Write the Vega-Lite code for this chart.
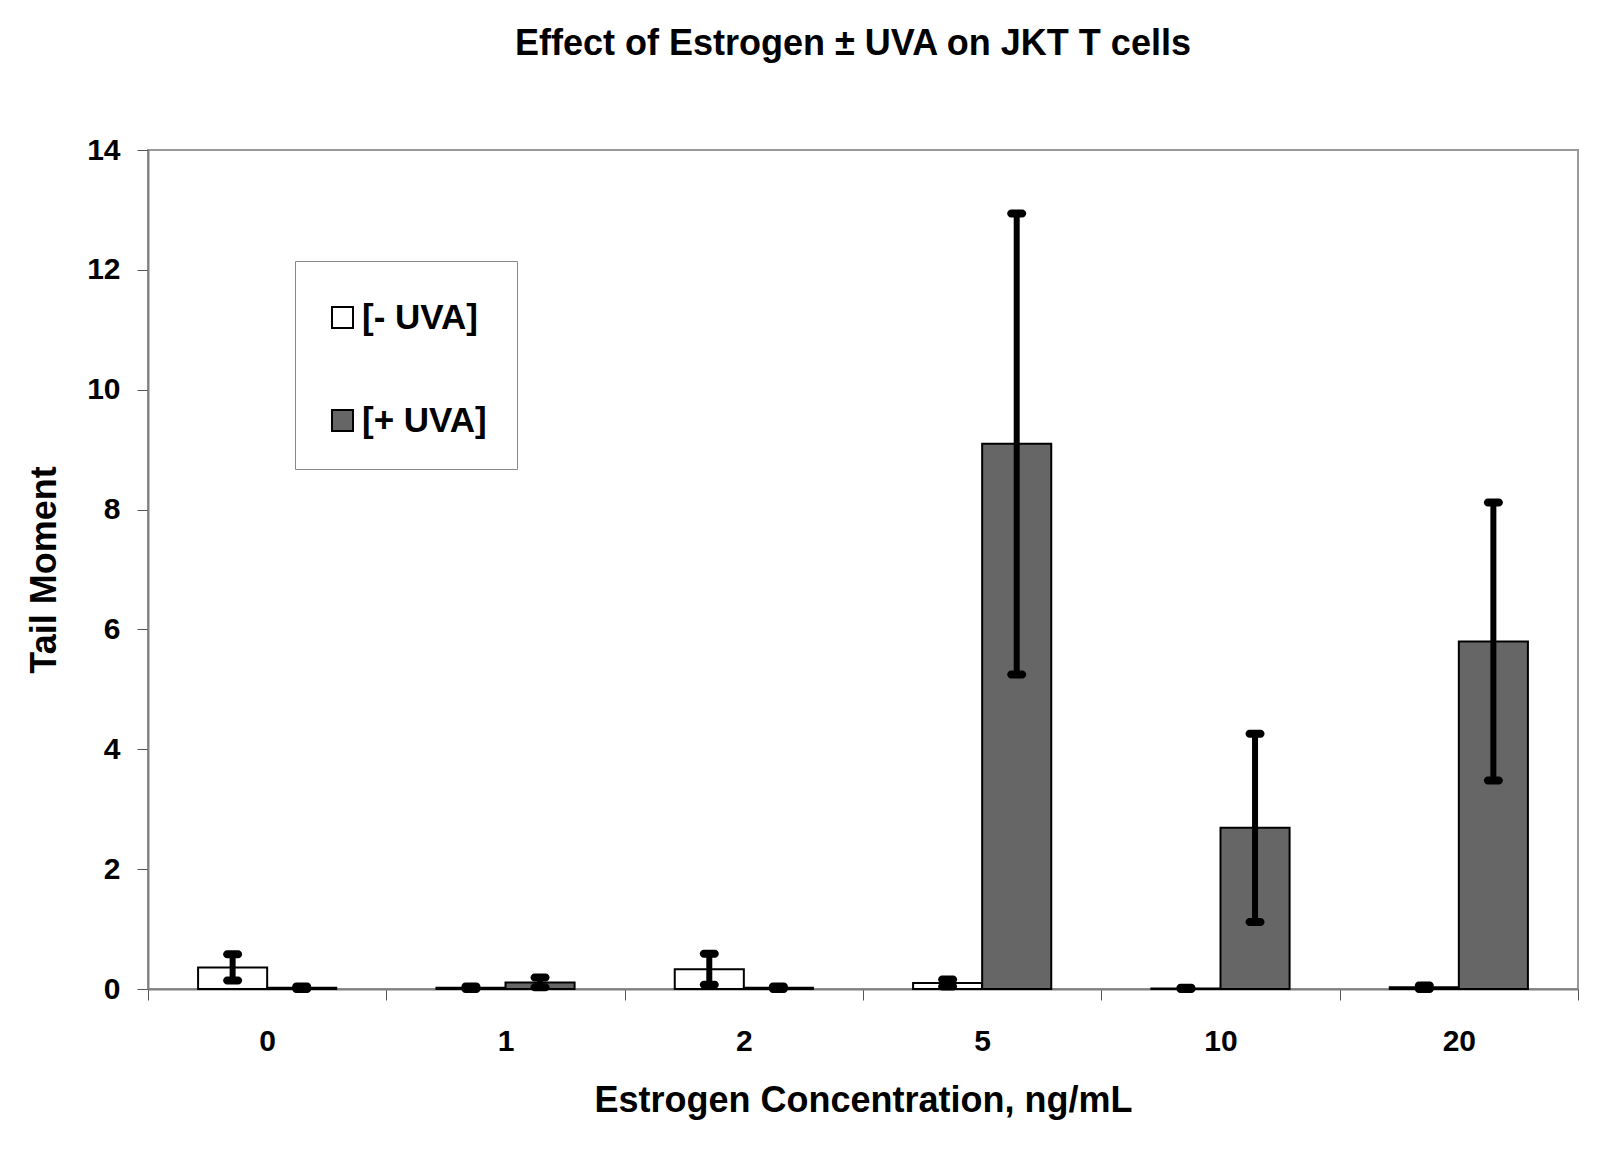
{
  "$schema": "https://vega.github.io/schema/vega-lite/v6.json",
  "width": 1430,
  "height": 839,
  "autosize": {"type": "none"},
  "padding": {"left": 148, "top": 150, "right": 32, "bottom": 161},
  "background": "white",
  "title": {
    "text": "Effect of Estrogen ± UVA on JKT T cells",
    "font": "Liberation Sans",
    "fontSize": 36,
    "fontWeight": "bold",
    "color": "black",
    "anchor": "middle",
    "dx": -10,
    "offset": 72
  },
  "config": {
    "view": {"stroke": "#999999", "strokeWidth": 2},
    "font": "Liberation Sans"
  },
  "data": {
    "values": [
      {"conc": 0, "uva": "[- UVA]", "mean": 0.36, "lo": 0.14, "hi": 0.58},
      {"conc": 0, "uva": "[+ UVA]", "mean": 0.02, "lo": 0.0, "hi": 0.04},
      {"conc": 1, "uva": "[- UVA]", "mean": 0.02, "lo": 0.0, "hi": 0.04},
      {"conc": 1, "uva": "[+ UVA]", "mean": 0.11, "lo": 0.03, "hi": 0.19},
      {"conc": 2, "uva": "[- UVA]", "mean": 0.33, "lo": 0.07, "hi": 0.59},
      {"conc": 2, "uva": "[+ UVA]", "mean": 0.02, "lo": 0.0, "hi": 0.04},
      {"conc": 5, "uva": "[- UVA]", "mean": 0.1, "lo": 0.04, "hi": 0.16},
      {"conc": 5, "uva": "[+ UVA]", "mean": 9.1, "lo": 5.25, "hi": 12.94},
      {"conc": 10, "uva": "[- UVA]", "mean": 0.01, "lo": 0.0, "hi": 0.02},
      {"conc": 10, "uva": "[+ UVA]", "mean": 2.69, "lo": 1.12, "hi": 4.26},
      {"conc": 20, "uva": "[- UVA]", "mean": 0.03, "lo": 0.0, "hi": 0.06},
      {"conc": 20, "uva": "[+ UVA]", "mean": 5.8, "lo": 3.48, "hi": 8.12}
    ]
  },
  "encoding": {
    "x": {
      "field": "conc",
      "type": "ordinal",
      "scale": {"paddingInner": 0, "paddingOuter": 0},
      "axis": {
        "title": "Estrogen Concentration, ng/mL",
        "labelAngle": 0,
        "tickBand": "extent",
        "tickSize": 11,
        "tickColor": "#555555",
        "domainColor": "#808080",
        "domainWidth": 2,
        "labelPadding": 26,
        "labelFontSize": 30,
        "labelFontWeight": "bold",
        "labelColor": "black",
        "titleFontSize": 36,
        "titleFontWeight": "bold",
        "titleColor": "black",
        "titlePadding": 27
      }
    },
    "xOffset": {
      "field": "uva",
      "type": "nominal",
      "sort": ["[- UVA]", "[+ UVA]"],
      "scale": {"paddingInner": 0, "paddingOuter": 0.725}
    }
  },
  "layer": [
    {
      "mark": {"type": "bar", "stroke": "black", "strokeWidth": 2},
      "encoding": {
        "y": {
          "field": "mean",
          "type": "quantitative",
          "title": "Tail Moment",
          "scale": {"domain": [0, 14], "nice": false},
          "axis": {
            "grid": false,
            "values": [0, 2, 4, 6, 8, 10, 12, 14],
            "format": "d",
            "tickSize": 11,
            "tickColor": "#555555",
            "domainColor": "#808080",
            "domainWidth": 2,
            "labelPadding": 17,
            "labelFontSize": 30,
            "labelFontWeight": "bold",
            "labelColor": "black",
            "titleFontSize": 36,
            "titleFontWeight": "bold",
            "titleColor": "black",
            "titlePadding": 23
          }
        },
        "fill": {
          "field": "uva",
          "type": "nominal",
          "scale": {"domain": ["[- UVA]", "[+ UVA]"], "range": ["white", "#666666"]},
          "legend": {
            "orient": "none",
            "legendX": 147,
            "legendY": 111,
            "title": " ",
            "titleFontSize": 1,
            "titlePadding": 8,
            "strokeColor": "#888888",
            "fillColor": "white",
            "padding": 30,
            "symbolType": "square",
            "symbolSize": 441,
            "symbolStrokeColor": "black",
            "symbolStrokeWidth": 2,
            "labelFontSize": 35,
            "labelFont": "Liberation Sans",
            "labelFontWeight": "bold",
            "labelColor": "black",
            "labelOffset": 2,
            "rowPadding": 67
          }
        }
      }
    },
    {
      "mark": {"type": "rule", "strokeWidth": 6, "color": "black", "opacity": 1},
      "encoding": {
        "y": {"field": "lo", "type": "quantitative", "title": "Tail Moment"},
        "y2": {"field": "hi"}
      }
    },
    {
      "mark": {"type": "tick", "orient": "horizontal", "thickness": 8, "size": 19, "cornerRadius": 4, "color": "black", "opacity": 1},
      "encoding": {
        "y": {"field": "hi", "type": "quantitative", "title": "Tail Moment"}
      }
    },
    {
      "mark": {"type": "tick", "orient": "horizontal", "thickness": 8, "size": 19, "cornerRadius": 4, "color": "black", "opacity": 1},
      "encoding": {
        "y": {"field": "lo", "type": "quantitative", "title": "Tail Moment"}
      }
    }
  ]
}
